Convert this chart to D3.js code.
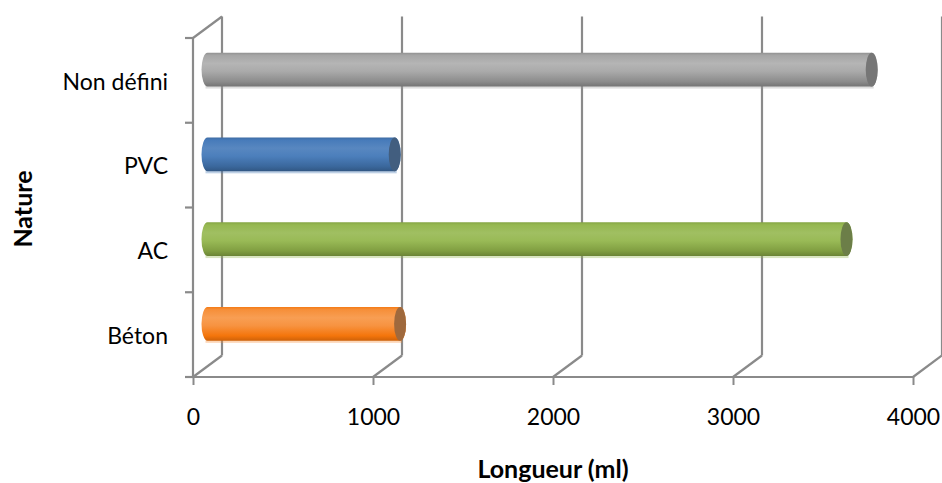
<!DOCTYPE html>
<html>
<head>
<meta charset="utf-8">
<script src="https://cdn.jsdelivr.net/npm/d3@7"></script>
<style>
  body { margin: 0; background: #fff; }
  svg { display: block; }
  text { font-family: "Lato", "Open Sans", sans-serif; fill: #000; }
</style>
</head>
<body>
<svg id="chart" width="942" height="483"></svg>
<script>
// Longueur par nature de conduite (ml)
const categories = ["Béton", "AC", "PVC", "Non défini"];
const values = [1070, 3550, 1040, 3690];
const colors = ["#F79646", "#9BBB59", "#4F81BD", "#ADADAD"];
const xTicks = [0, 1000, 2000, 3000, 4000];
const xTitle = "Longueur (ml)";
const yTitle = "Nature";

(function () {
  const svg = d3.select("#chart");

  // front plane of the 3-D box
  const pLeft = 193, pRight = 913, pTop = 38, pBottom = 377;
  // depth offset of the back wall
  const dx = 29, dy = -21.5;
  const gridColor = "#8a8a8a";

  const x = d3.scaleLinear().domain([0, 4000]).range([pLeft, pRight]);
  const y = d3.scaleBand().domain(categories).range([pBottom, pTop]).padding(0);

  const defs = svg.append("defs");
  categories.forEach((c, i) => {
    const base = d3.hsl(colors[i]);
    const g = defs.append("linearGradient")
      .attr("id", "cyl" + i).attr("x1", 0).attr("y1", 0).attr("x2", 0).attr("y2", 1);
    const stops = [
      [0, base.darker(0.5)],
      [0.08, base.darker(0.12)],
      [0.32, base.brighter(0.12)],
      [0.55, base.darker(0.05)],
      [0.85, base.darker(0.6)],
      [0.97, base.darker(1.0)],
      [1, base.darker(1.15)]
    ];
    stops.forEach(([o, col]) => g.append("stop").attr("offset", o).attr("stop-color", col.formatHex()));
  });

  // back wall gridlines
  const grid = svg.append("g").attr("stroke", gridColor).attr("stroke-width", 2.2).attr("fill", "none");
  grid.selectAll("line.back").data(xTicks).join("line").attr("class", "back")
    .attr("x1", d => x(d) + dx).attr("x2", d => x(d) + dx)
    .attr("y1", pTop + dy).attr("y2", pBottom + dy);
  // floor diagonals
  grid.selectAll("line.floor").data(xTicks).join("line").attr("class", "floor")
    .attr("x1", d => x(d)).attr("x2", d => x(d) + dx)
    .attr("y1", pBottom).attr("y2", pBottom + dy);
  // left wall: front edge and top diagonal
  grid.append("line").attr("x1", pLeft).attr("x2", pLeft).attr("y1", pTop).attr("y2", pBottom);
  grid.append("line").attr("x1", pLeft).attr("x2", pLeft + dx).attr("y1", pTop).attr("y2", pTop + dy);
  // floor front edge
  grid.append("line").attr("x1", pLeft).attr("x2", pRight).attr("y1", pBottom).attr("y2", pBottom);

  // category boundary ticks on the left
  const bounds = categories.map(c => y(c)).concat([y(categories[0]) + y.bandwidth()]);
  grid.selectAll("line.ytick").data(bounds).join("line").attr("class", "ytick")
    .attr("x1", pLeft - 8).attr("x2", pLeft).attr("y1", d => d).attr("y2", d => d);

  // cylinders, set at half depth
  const r = y.bandwidth() / 2.5 / 2;
  const rx = 6;
  const bars = svg.append("g");
  categories.forEach((c, i) => {
    const cy = y(c) + y.bandwidth() / 2 + dy / 2;
    const xl = x(0) + dx / 2, xr = x(values[i]) + dx / 2;
    const base = d3.hsl(colors[i]);
    // soft shadow under the cylinder
    bars.append("rect").attr("x", xl - 2).attr("y", cy + r - 1).attr("width", xr - xl + 4).attr("height", 3)
      .attr("fill", base.darker(0.2).formatHex()).attr("opacity", 0.35);
    bars.append("path")
      .attr("d", `M${xl},${cy - r}L${xr},${cy - r}A${rx},${r} 0 0 1 ${xr},${cy + r}L${xl},${cy + r}A${rx},${r} 0 0 1 ${xl},${cy - r}Z`)
      .attr("fill", `url(#cyl${i})`);
    bars.append("ellipse").attr("cx", xr).attr("cy", cy).attr("rx", rx).attr("ry", r)
      .attr("fill", d3.interpolateRgb(colors[i], "#333333")(0.45));
  });

  // x axis ticks and labels
  const xAxis = svg.append("g").attr("transform", `translate(0,${pBottom})`)
    .call(d3.axisBottom(x).tickValues(xTicks).tickSize(8).tickPadding(24).tickFormat(d3.format("d")));
  xAxis.select(".domain").remove();
  xAxis.selectAll(".tick line").attr("stroke", gridColor).attr("stroke-width", 2);
  xAxis.selectAll(".tick text").attr("font-size", 23).attr("font-family", "Lato");

  // y axis labels at band centres
  const yAxis = svg.append("g").attr("transform", `translate(${pLeft - 25},0)`)
    .call(d3.axisLeft(y).tickSize(0).tickPadding(0));
  yAxis.select(".domain").remove();
  yAxis.selectAll(".tick text").attr("font-size", 23).attr("font-family", "Lato").attr("dy", "0.4em");

  // axis titles
  svg.append("text").attr("x", 553).attr("y", 478).attr("text-anchor", "middle")
    .attr("font-size", 25).attr("font-weight", "bold").text(xTitle);
  svg.append("text").attr("transform", "translate(32,209) rotate(-90)").attr("text-anchor", "middle")
    .attr("font-size", 25).attr("font-weight", "bold").text(yTitle);
})();
</script>
</body>
</html>
